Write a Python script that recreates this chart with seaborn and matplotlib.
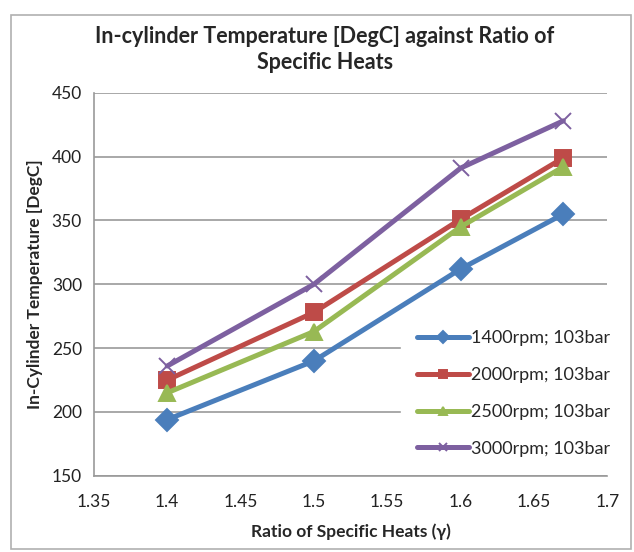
import matplotlib
matplotlib.use("Agg")
import matplotlib.pyplot as plt
import pandas as pd
import seaborn as sns
from matplotlib.patches import Rectangle

# Data
gamma = [1.4, 1.5, 1.6, 1.67]
temp_1400 = [194, 240, 312, 355]
temp_2000 = [225, 278, 351, 399]
temp_2500 = [215, 263, 345, 392]
temp_3000 = [236, 300, 391, 428]
series_names = ["1400rpm; 103bar", "2000rpm; 103bar", "2500rpm; 103bar", "3000rpm; 103bar"]
x_ticks = [1.35, 1.4, 1.45, 1.5, 1.55, 1.6, 1.65, 1.7]
x_tick_labels = ["1.35", "1.4", "1.45", "1.5", "1.55", "1.6", "1.65", "1.7"]
y_ticks = [150, 200, 250, 300, 350, 400, 450]

colors = ["#4A7EBB", "#BE4B48", "#98B954", "#7D60A0"]
markers = ["D", "s", "^", "x"]

# Long-form table for seaborn
df = pd.DataFrame({
    "gamma": gamma * 4,
    "temp": temp_1400 + temp_2000 + temp_2500 + temp_3000,
    "series": [name for name in series_names for _ in gamma],
})

sns.set_style("white")
plt.rcParams["font.family"] = ["Lato", "DejaVu Sans"]

fig = plt.figure(figsize=(6.34, 5.52), dpi=100)
ax = fig.add_axes([0.148, 0.138, 0.81, 0.694])

# one call per series: seaborn will not mix filled and line-art markers
for name, c, m in zip(series_names, colors, markers):
    sub = df[df["series"] == name]
    sns.lineplot(
        data=sub, x="gamma", y="temp", color=c, marker=m, label=name,
        linewidth=3.6, markersize=11, markeredgewidth=1.4, markeredgecolor=c,
        ax=ax, zorder=3,
    )

ax.set_xlim(1.35, 1.7)
ax.set_ylim(150, 450)
ax.set_xticks(x_ticks)
ax.set_xticklabels(x_tick_labels)
ax.set_yticks(y_ticks)
ax.tick_params(axis="both", labelsize=12.5, colors="#888888", labelcolor="#222222",
               direction="out", length=5, width=1)
ax.tick_params(axis="x", pad=8)
ax.yaxis.grid(True, color="#9a9a9a", linewidth=1.2, zorder=0)
ax.xaxis.grid(False)
ax.set_axisbelow(True)
for side in ["top", "right"]:
    ax.spines[side].set_visible(False)
for side in ["left", "bottom"]:
    ax.spines[side].set_color("#999999")
    ax.spines[side].set_linewidth(1.2)

# title is centred on the whole chart frame, not on the plot area
ax.set_title("In-cylinder Temperature [DegC] against Ratio of\nSpecific Heats",
             fontsize=15.5, fontweight="bold", pad=17, linespacing=1.3, x=0.45)
ax.set_xlabel("Ratio of Specific Heats (γ)", fontsize=12.5, fontweight="bold", labelpad=10)
ax.set_ylabel("In-Cylinder Temperature [DegC]", fontsize=12.5, fontweight="bold", labelpad=6)

leg = ax.legend(loc="lower right", bbox_to_anchor=(1.055, -0.016), frameon=True,
                fontsize=13, handlelength=2.9, markerscale=0.55,
                labelspacing=1.15, handletextpad=0.1, borderpad=0.9)
leg.get_frame().set_facecolor("white")
leg.get_frame().set_edgecolor("white")
leg.get_frame().set_alpha(1.0)
leg.set_zorder(5)

# chart area border like the spreadsheet chart frame
fig.patches.append(Rectangle((0.017, 0.005), 0.978, 0.968, transform=fig.transFigure,
                             fill=False, edgecolor="#b0b0b0", linewidth=1.2))

fig.savefig("out.png", dpi=100)
